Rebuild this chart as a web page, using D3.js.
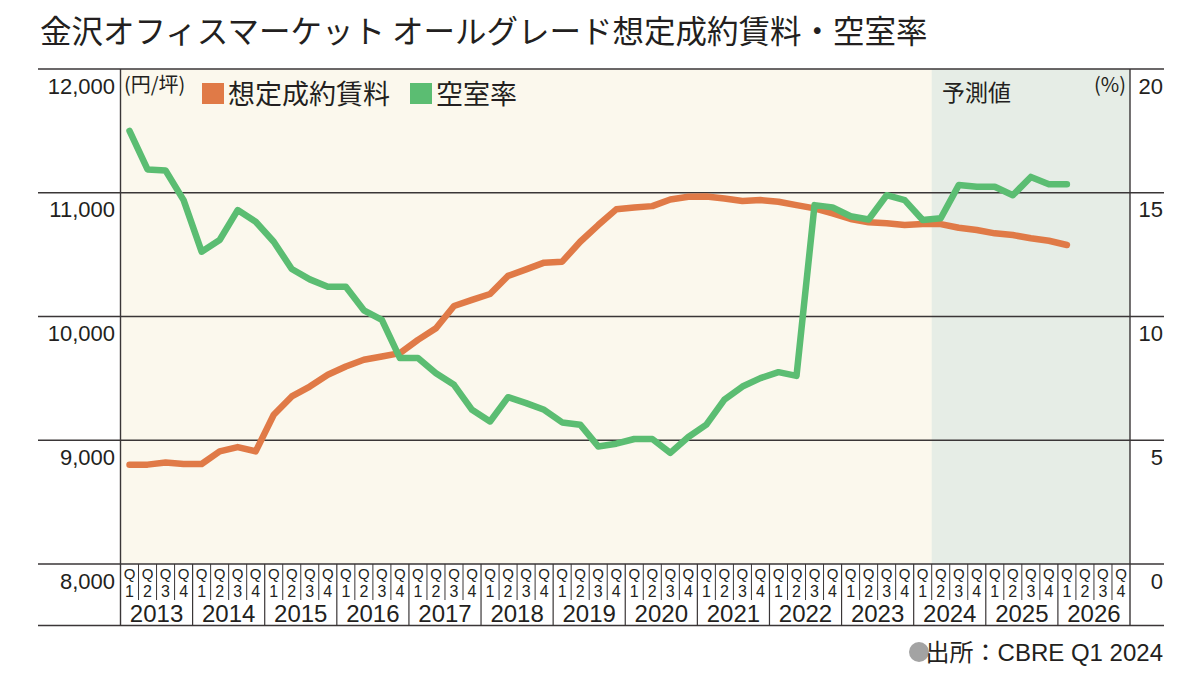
<!DOCTYPE html>
<html>
<head>
<meta charset="utf-8">
<script src="https://cdn.jsdelivr.net/npm/d3@7"></script>
<style>
  html, body { margin: 0; padding: 0; background: #fff; }
  text { font-family: "Liberation Sans", "Noto Sans CJK JP", sans-serif; fill: #231f20; }
  .jp { font-family: "Noto Sans CJK JP", sans-serif; }
</style>
</head>
<body>
<div id="chart"></div>
<script>
// data (2013 Q1 .. 2026 Q1)
var years = d3.range(2013, 2027);
var quarters = ["1", "2", "3", "4"];

var rent = [
  8803, 8803, 8821, 8808,
  8808, 8910, 8945, 8910,
  9206, 9354, 9434, 9529,
  9596, 9650, 9677, 9704,
  9811, 9905, 10085, 10134,
  10182, 10328, 10381, 10435,
  10443, 10604, 10739, 10866,
  10880, 10892, 10946, 10968,
  10970, 10954, 10933, 10941,
  10927, 10900, 10874, 10833,
  10788, 10762, 10753, 10739,
  10747, 10747, 10717, 10699,
  10672, 10658, 10632, 10612,
  10578
];

var vacancy = [
  17.5, 15.94, 15.9, 14.7,
  12.62, 13.09, 14.3, 13.83,
  13.02, 11.92, 11.5, 11.2,
  11.2, 10.25, 9.86, 8.32,
  8.32, 7.71, 7.24, 6.23,
  5.76, 6.74, 6.5, 6.23,
  5.72, 5.63, 4.75, 4.86,
  5.05, 5.05, 4.49, 5.13,
  5.63, 6.64, 7.17, 7.51,
  7.75, 7.6, 14.5, 14.41,
  14.05, 13.92, 14.9, 14.7,
  13.9, 13.97, 15.31, 15.24,
  15.24, 14.9, 15.64, 15.34,
  15.34
];

var rentTicks = [8000, 9000, 10000, 11000, 12000];
var vacTicks = [0, 5, 10, 15, 20];
var forecastFrom = "2024Q2";

function draw_chart() {
  "use strict";
  var width = 1200,
      height = 689;

  var plotL = 120.5, plotR = 1130,
      plotT = 69, plotB = 564, base = 625.5,
      lineL = 38, lineR = 1164;

  var keys = [];
  years.forEach(function(y) { quarters.forEach(function(q) { keys.push(y + "Q" + q); }); });

  var x = d3.scaleBand().domain(keys).range([plotL, plotR]);
  var xYear = d3.scaleBand().domain(years).range([plotL, plotR]);
  var yRent = d3.scaleLinear().domain([8000, 12000]).range([plotB, plotT]);
  var yVac = d3.scaleLinear().domain([0, 20]).range([plotB, plotT]);

  var svg = d3.select("#chart")
      .append("svg")
      .attr("width", width)
      .attr("height", height);

  // title
  svg.append("text")
      .attr("class", "jp")
      .attr("x", 40)
      .attr("y", 43)
      .style("font-size", "31.5px")
      .style("font-weight", 400)
      .text("金沢オフィスマーケット オールグレード想定成約賃料・空室率");

  // plot backgrounds
  svg.append("rect")
      .attr("x", plotL).attr("y", plotT)
      .attr("width", plotR - plotL).attr("height", plotB - plotT)
      .style("fill", "#fbf8ed");

  svg.append("rect")
      .attr("x", x(forecastFrom)).attr("y", plotT)
      .attr("width", plotR - x(forecastFrom)).attr("height", plotB - plotT)
      .style("fill", "#e6ede6");

  // horizontal rules
  svg.selectAll(".grid")
      .data(rentTicks)
      .enter()
      .append("line")
      .attr("class", "grid")
      .attr("x1", lineL).attr("x2", lineR)
      .attr("y1", function(d) { return yRent(d); })
      .attr("y2", function(d) { return yRent(d); })
      .style("stroke", "#3a3637")
      .style("stroke-width", 1.6);

  svg.append("line")
      .attr("x1", lineL).attr("x2", lineR)
      .attr("y1", base).attr("y2", base)
      .style("stroke", "#3a3637")
      .style("stroke-width", 1.6);

  // vertical frame lines
  [plotL, plotR].forEach(function(v) {
    svg.append("line")
        .attr("x1", v).attr("x2", v)
        .attr("y1", plotT).attr("y2", base)
        .style("stroke", "#3a3637")
        .style("stroke-width", 1.4);
  });

  // quarter cells
  var qg = svg.append("g").attr("class", "quarters");

  qg.selectAll(".qd")
      .data(keys.filter(function(k) { return k.slice(-1) !== "1"; }))
      .enter()
      .append("line")
      .attr("class", "qd")
      .attr("x1", function(d) { return x(d); })
      .attr("x2", function(d) { return x(d); })
      .attr("y1", plotB).attr("y2", 600)
      .style("stroke", "#3a3637")
      .style("stroke-width", 1);

  qg.selectAll(".yd")
      .data(years.slice(1))
      .enter()
      .append("line")
      .attr("class", "yd")
      .attr("x1", function(d) { return xYear(d); })
      .attr("x2", function(d) { return xYear(d); })
      .attr("y1", plotB).attr("y2", base)
      .style("stroke", "#3a3637")
      .style("stroke-width", 1.2);

  qg.selectAll(".ql")
      .data(keys)
      .enter()
      .append("text")
      .attr("class", "ql")
      .attr("x", function(d) { return x(d) + x.bandwidth() / 2; })
      .attr("y", 579)
      .attr("text-anchor", "middle")
      .style("font-size", "15px")
      .text("Q");

  qg.selectAll(".qn")
      .data(keys)
      .enter()
      .append("text")
      .attr("class", "qn")
      .attr("x", function(d) { return x(d) + x.bandwidth() / 2; })
      .attr("y", 597)
      .attr("text-anchor", "middle")
      .style("font-size", "16px")
      .text(function(d) { return d.slice(-1); });

  qg.selectAll(".yl")
      .data(years)
      .enter()
      .append("text")
      .attr("class", "yl")
      .attr("x", function(d) { return xYear(d) + xYear.bandwidth() / 2; })
      .attr("y", 622)
      .attr("text-anchor", "middle")
      .style("font-size", "24px")
      .text(function(d) { return d; });

  // axes
  var axL = svg.append("g")
      .attr("transform", "translate(115,0)")
      .call(d3.axisLeft(yRent).tickValues(rentTicks).tickFormat(d3.format(",")).tickSize(0).tickPadding(0));

  var axR = svg.append("g")
      .attr("transform", "translate(1163,0)")
      .call(d3.axisLeft(yVac).tickValues(vacTicks).tickSize(0).tickPadding(0));

  [axL, axR].forEach(function(ax) {
    ax.select(".domain").remove();
    ax.selectAll("text")
        .attr("dy", "1.1em")
        .style("font-size", "22px")
        .style("font-family", "Liberation Sans, sans-serif")
        .style("fill", "#231f20");
  });

  // unit labels
  svg.append("text")
      .attr("class", "jp")
      .attr("x", 124).attr("y", 92)
      .style("font-size", "20px")
      .text("(円/坪)");

  svg.append("text")
      .attr("class", "jp")
      .attr("x", 1126).attr("y", 92)
      .attr("text-anchor", "end")
      .style("font-size", "20px")
      .text("(%)");

  svg.append("text")
      .attr("class", "jp")
      .attr("x", 942).attr("y", 101)
      .style("font-size", "23px")
      .text("予測値");

  // legend
  var legend = [
    {name: "想定成約賃料", color: "#e07a47", x: 202},
    {name: "空室率", color: "#5bbd72", x: 410}
  ];

  var lg = svg.selectAll(".legend")
      .data(legend)
      .enter()
      .append("g")
      .attr("class", "legend")
      .attr("transform", function(d) { return "translate(" + d.x + ",0)"; });

  lg.append("rect")
      .attr("x", 0).attr("y", 83)
      .attr("width", 22).attr("height", 21)
      .style("fill", function(d) { return d.color; });

  lg.append("text")
      .attr("class", "jp")
      .attr("x", 26).attr("y", 104)
      .style("font-size", "27px")
      .text(function(d) { return d.name; });

  // lines
  var cx = function(d, i) { return x(keys[i]) + x.bandwidth() / 2; };

  svg.append("path")
      .datum(rent)
      .attr("d", d3.line().x(cx).y(function(d) { return yRent(d); }))
      .style("fill", "none")
      .style("stroke", "#e07a47")
      .style("stroke-width", 6.5)
      .style("stroke-linejoin", "round")
      .style("stroke-linecap", "round");

  svg.append("path")
      .datum(vacancy)
      .attr("d", d3.line().x(cx).y(function(d) { return yVac(d); }))
      .style("fill", "none")
      .style("stroke", "#5bbd72")
      .style("stroke-width", 6.5)
      .style("stroke-linejoin", "round")
      .style("stroke-linecap", "round");

  // source
  svg.append("circle")
      .attr("cx", 919).attr("cy", 652).attr("r", 10)
      .style("fill", "#a3a3a3");

  svg.append("text")
      .attr("x", 1163).attr("y", 661)
      .attr("text-anchor", "end")
      .style("font-size", "24px")
      .text("出所：CBRE Q1 2024");
}

draw_chart();
</script>
</body>
</html>
